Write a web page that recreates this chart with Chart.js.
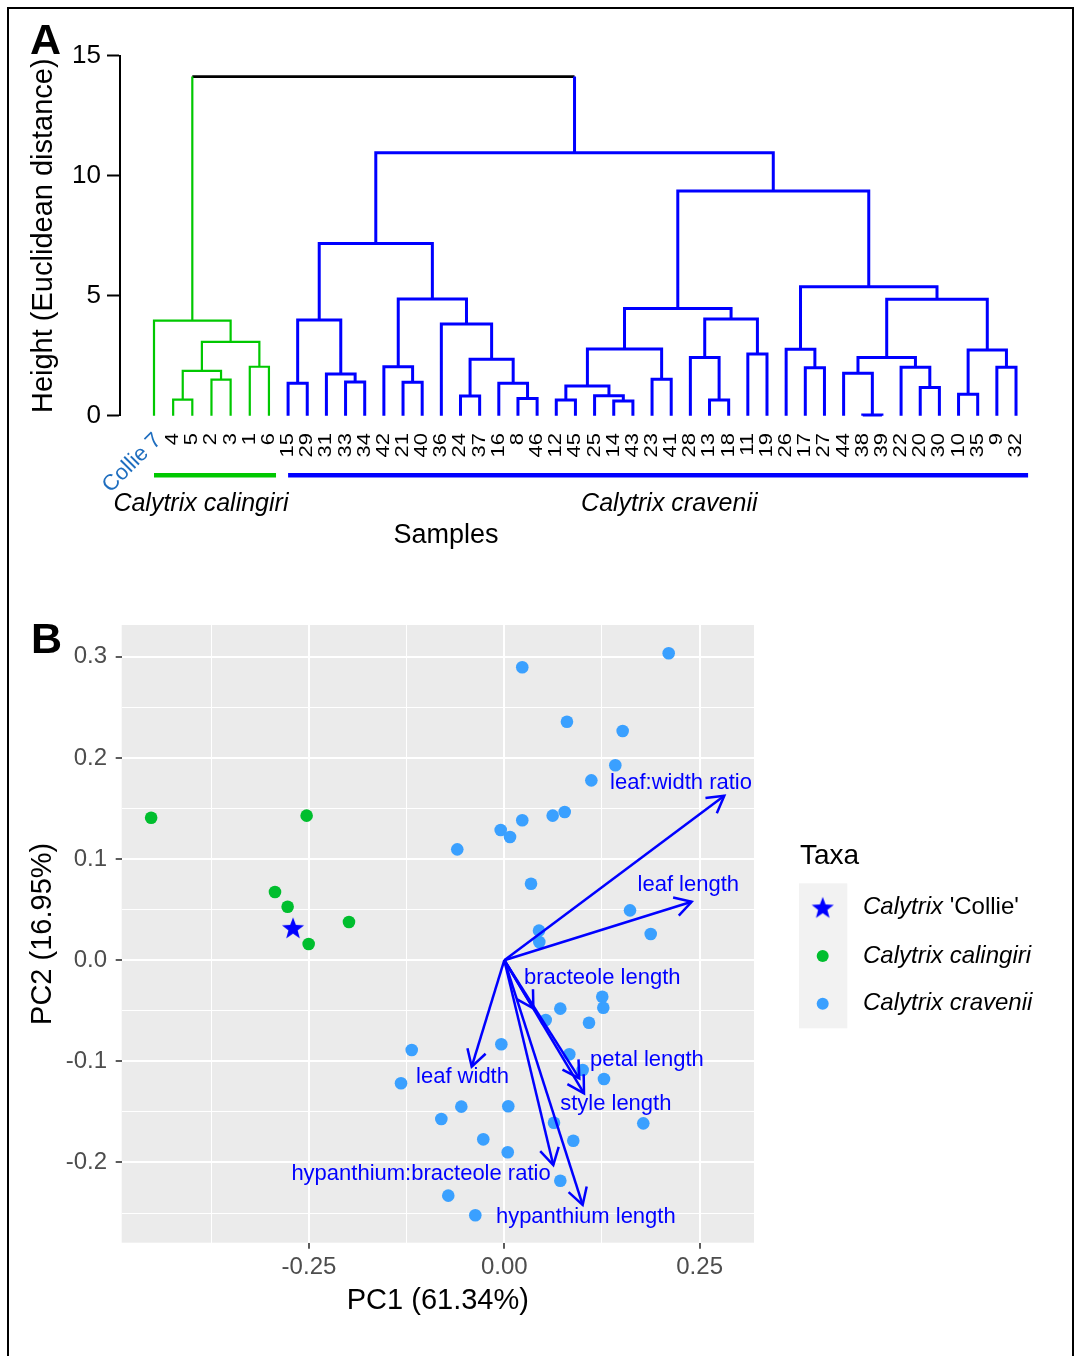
<!DOCTYPE html>
<html>
<head>
<meta charset="utf-8">
<script src="https://cdn.jsdelivr.net/npm/chart.js@4.4.1/dist/chart.umd.min.js"></script>
<style>
  body { margin: 0; background: #fff; width: 1075px; height: 1356px; overflow: hidden; position: relative;
         font-family: "Liberation Sans", Arial, Helvetica, sans-serif; }
  canvas { position: absolute; left: 0; top: 0; }
  #frame { position: absolute; left: 7px; top: 7px; width: 1063px; height: 1400px; border: 2px solid #000; }
  .tag { position: absolute; font-weight: bold; font-size: 43px; line-height: 1; }
</style>
</head>
<body>
<div id="frame"></div>
<canvas id="dendro" width="1075" height="1356"></canvas>
<canvas id="pca" width="1075" height="1356"></canvas>
<div class="tag" style="left:30px; top:18px;">A</div>
<div class="tag" style="left:31px; top:617px;">B</div>

<script>
// ---- Panel A: hierarchical clustering ----
const leafLabels = ['Collie 7', '4', '5', '2', '3', '1', '6', '15', '29', '31', '33', '34', '42', '21', '40',
  '36', '24', '37', '16', '8', '46', '12', '45', '25', '14', '43', '23', '41', '28', '13', '18', '11', '19',
  '26', '17', '27', '44', '38', '39', '22', '20', '30', '10', '35', '9', '32'];

// hclust-style merges: a leaf label or the index of an earlier merge, then the join height
const merges = [
  ['4', '5', 0.67], ['2', '3', 1.5], [0, 1, 1.87], ['1', '6', 2.04], [2, 3, 3.08], ['Collie 7', 4, 3.96],
  ['15', '29', 1.35], ['33', '34', 1.40], ['31', 7, 1.74], [6, 8, 3.99],
  ['21', '40', 1.39], ['42', 10, 2.04], ['24', '37', 0.82], ['8', '46', 0.72], ['16', 13, 1.35],
  [12, 14, 2.35], ['36', 15, 3.82], [11, 16, 4.86], [9, 17, 7.18],
  ['12', '45', 0.65], ['14', '43', 0.61], ['25', 20, 0.83], [19, 21, 1.24], ['23', '41', 1.52], [22, 23, 2.78],
  ['13', '18', 0.65], ['28', 25, 2.42], ['11', '19', 2.57], [26, 27, 4.03], [24, 28, 4.47],
  ['17', '27', 2.0], ['26', 30, 2.77], ['38', '39', 0.03], ['44', 32, 1.77], ['20', '30', 1.18],
  ['22', 34, 2.02], [33, 35, 2.43], ['10', '35', 0.89], ['9', '32', 2.02], [37, 38, 2.74], [36, 39, 4.85],
  [31, 40, 5.37], [29, 41, 9.36], [18, 42, 10.96], [5, 43, 14.13]
];

const clusterRoots = [5, 43];
const clusterColours = ['#00C800', '#0000FF'];
const rootColour = '#000000';

const taxonNames = ['Calytrix calingiri', 'Calytrix cravenii'];
const taxonBarFrom = [0, 7];
const taxonBarTo = [6.37, 45.63];
const taxonNameAt = [2.45, 26.9];

// ---- Panel B: PCA biplot ----
const collieX = [-0.2704];
const collieY = [0.031];
const calingiriX = [-0.452, -0.253, -0.2935, -0.2773, -0.1988, -0.2504];
const calingiriY = [0.1409, 0.1429, 0.0674, 0.0529, 0.0378, 0.0160];
const craveniiX = [0.2104, 0.0230, 0.0802, 0.1515, 0.1421, 0.1114, 0.0773, 0.0619, 0.0230, -0.0046,
  0.0073, -0.0602, 0.0342, 0.1609, 0.1874, 0.0444, 0.0448, -0.1185, -0.1322, -0.0806,
  -0.0717, 0.1254, 0.1267, 0.0717, 0.0530, 0.1084, -0.0038, 0.0832, 0.1003, 0.1276,
  -0.0550, 0.0051, 0.0636, 0.1779, -0.0269, 0.0883, 0.0044, 0.0717, -0.0371];
const craveniiY = [0.3034, 0.2896, 0.2358, 0.2266, 0.1927, 0.1778, 0.1465, 0.1429, 0.1383, 0.1287,
  0.1218, 0.1096, 0.0756, 0.0493, 0.0259, 0.0292, 0.0180, -0.0888, -0.1217, -0.1570,
  -0.2328, -0.0361, -0.0470, -0.0479, -0.0591, -0.0618, -0.0831, -0.0930, -0.1086, -0.1174,
  -0.1448, -0.1444, -0.1607, -0.1613, -0.1771, -0.1785, -0.1899, -0.2180, -0.2522];

const loadingNames = ['leaf:width ratio', 'leaf length', 'bracteole length', 'petal length', 'style length',
  'leaf width', 'hypanthium:bracteole ratio', 'hypanthium length'];
const loadingX = [0.2816, 0.2398, 0.0372, 0.0960, 0.1020, -0.0417, 0.0627, 0.1003];
const loadingY = [0.1626, 0.0578, -0.0476, -0.1168, -0.1316, -0.1053, -0.2025, -0.2420];
const loadingLabelX = [0.2262, 0.2355, 0.1253, 0.1826, 0.1427, -0.0535, -0.1066, 0.1043];
const loadingLabelY = [0.1749, 0.0743, -0.0173, -0.0987, -0.1422, -0.1156, -0.2116, -0.2536];

const xMajor = [-0.25, 0, 0.25];
const xMajorText = ['-0.25', '0.00', '0.25'];
const xMinor = [-0.375, -0.125, 0.125];
const yMajor = [-0.2, -0.1, 0, 0.1, 0.2, 0.3];
const yMajorText = ['-0.2', '-0.1', '0.0', '0.1', '0.2', '0.3'];
const yMinor = [-0.25, -0.15, -0.05, 0.05, 0.15, 0.25];

const legendNames = [['Calytrix', " 'Collie'"], ['Calytrix calingiri', ''], ['Calytrix cravenii', '']];

const FONT = '"Liberation Sans", Arial, Helvetica, sans-serif';
Chart.defaults.font.family = FONT;
Chart.defaults.animation = false;

// ---------- build dendrogram segments ----------
const leafIndex = {};
leafLabels.forEach((lab, i) => { leafIndex[lab] = i; });
const nodeX = [];
const nodeColour = [];
const leafColour = {};

function place(ref) {
  return typeof ref === 'string' ? { x: leafIndex[ref], h: 0 } : { x: nodeX[ref], h: merges[ref][2] };
}
merges.forEach((m, i) => { nodeX[i] = (place(m[0]).x + place(m[1]).x) / 2; });

function paint(ref, colour) {
  if (typeof ref === 'string') { leafColour[ref] = colour; return; }
  nodeColour[ref] = colour;
  paint(merges[ref][0], colour);
  paint(merges[ref][1], colour);
}
nodeColour[merges.length - 1] = rootColour;
clusterRoots.forEach((r, k) => paint(r, clusterColours[k]));
const colourOf = ref => typeof ref === 'string' ? leafColour[ref] : nodeColour[ref];

const segs = {};
function addPath(colour, pts) {
  if (!segs[colour]) segs[colour] = [];
  segs[colour].push(...pts, { x: pts[0].x, y: null });
}
merges.forEach((m, i) => {
  const a = place(m[0]), b = place(m[1]), h = m[2];
  const ca = colourOf(m[0]), cb = colourOf(m[1]), c = nodeColour[i];
  if (ca === c && cb === c) {
    addPath(c, [{ x: a.x, y: a.h }, { x: a.x, y: h }, { x: b.x, y: h }, { x: b.x, y: b.h }]);
  } else {
    addPath(ca, [{ x: a.x, y: a.h }, { x: a.x, y: h }]);
    addPath(cb, [{ x: b.x, y: b.h }, { x: b.x, y: h }]);
    addPath(c, [{ x: a.x, y: h }, { x: b.x, y: h }]);
  }
});
const lineWidths = { '#00C800': 2.2, '#0000FF': 3, '#000000': 2.8 };

// leaf labels, coloured bars and names under the tree
const dendroText = {
  id: 'dendroText',
  afterDraw(chart) {
    const { ctx } = chart;
    const x = chart.scales.x;
    ctx.save();
    ctx.fillStyle = '#000';
    ctx.font = '22px ' + FONT;
    ctx.textAlign = 'right';
    ctx.textBaseline = 'middle';
    leafLabels.forEach((lab, i) => {
      if (i === 0) return;
      ctx.save();
      ctx.translate(x.getPixelForValue(i), 433);
      ctx.rotate(-Math.PI / 2);
      ctx.scale(1, 0.82);
      ctx.fillText(lab, 0, 0);
      ctx.restore();
    });
    // the odd one out is tilted and blue
    ctx.save();
    ctx.fillStyle = '#1F6EBF';
    ctx.font = '22px ' + FONT;
    ctx.translate(x.getPixelForValue(0) + 4, 437);
    ctx.rotate(-Math.PI / 4);
    ctx.fillText(leafLabels[0], 0, 0);
    ctx.restore();

    taxonNames.forEach((name, k) => {
      const x0 = x.getPixelForValue(taxonBarFrom[k]);
      const x1 = x.getPixelForValue(taxonBarTo[k]);
      ctx.fillStyle = clusterColours[k];
      ctx.fillRect(x0, 473, x1 - x0, 4.5);
      ctx.fillStyle = '#000';
      ctx.font = 'italic 25px ' + FONT;
      ctx.textAlign = 'center';
      ctx.fillText(name, x.getPixelForValue(taxonNameAt[k]), 504);
    });
    ctx.font = '27px ' + FONT;
    ctx.fillText('Samples', 446, 536);
    ctx.restore();
  }
};

new Chart(document.getElementById('dendro'), {
  type: 'scatter',
  data: {
    datasets: Object.keys(segs).map(col => ({
      data: segs[col],
      showLine: true,
      spanGaps: false,
      borderColor: col,
      borderWidth: lineWidths[col],
      borderJoinStyle: 'miter',
      pointRadius: 0,
      clip: false
    }))
  },
  options: {
    responsive: false,
    events: [],
    layout: { padding: { top: 55.7, right: 45, bottom: 940.3, left: 0 } },
    plugins: { legend: { display: false }, tooltip: { enabled: false } },
    scales: {
      x: { type: 'linear', min: -1.775, max: 45.73, display: false },
      y: {
        type: 'linear', min: 0, max: 15,
        afterFit: s => { s.width = 120; },
        ticks: { stepSize: 5, font: { size: 26 }, color: '#000', padding: 6 },
        grid: { drawOnChartArea: false, tickLength: 13, tickColor: '#000', tickWidth: 2 },
        border: { display: true, color: '#000', width: 2 },
        title: { display: true, text: 'Height (Euclidean distance)', font: { size: 29 }, color: '#000',
                 padding: { top: 27, bottom: 0 } }
      }
    }
  },
  plugins: [dendroText]
});

// ---------- Panel B ----------
function starImage(r) {
  const c = document.createElement('canvas');
  c.width = c.height = Math.ceil(r * 2 + 4);
  const g = c.getContext('2d');
  g.translate(c.width / 2, c.height / 2);
  g.beginPath();
  for (let k = 0; k < 10; k++) {
    const rad = k % 2 === 0 ? r : r * 0.42;
    const a = -Math.PI / 2 + k * Math.PI / 5;
    g.lineTo(rad * Math.cos(a), rad * Math.sin(a));
  }
  g.closePath();
  g.fillStyle = '#0000FF';
  g.fill();
  return c;
}
const star = starImage(11.6);
const zip = (xs, ys) => xs.map((v, i) => ({ x: v, y: ys[i] }));
const isIn = (arr, v) => arr.some(a => Math.abs(a - v) < 1e-9);

const pcaColours = { collie: '#0000FF', calingiri: '#00BE2E', cravenii: '#3AA0FF' };

const panelBg = {
  id: 'panelBg',
  beforeDraw(chart) {
    const { ctx, chartArea: a } = chart;
    ctx.save();
    ctx.fillStyle = '#EBEBEB';
    ctx.fillRect(a.left, a.top, a.right - a.left, a.bottom - a.top);
    ctx.restore();
  }
};

const biplotExtras = {
  id: 'biplotExtras',
  afterDatasetsDraw(chart) {
    const { ctx } = chart;
    const x = chart.scales.x, y = chart.scales.y;
    const ox = x.getPixelForValue(0), oy = y.getPixelForValue(0);
    ctx.save();
    ctx.strokeStyle = '#0000FF';
    ctx.lineWidth = 2.5;
    ctx.lineJoin = 'miter';
    loadingX.forEach((lx, i) => {
      const tx = x.getPixelForValue(lx), ty = y.getPixelForValue(loadingY[i]);
      const ang = Math.atan2(ty - oy, tx - ox);
      const L = 19;
      const a1 = ang + Math.PI - Math.PI / 6, a2 = ang + Math.PI + Math.PI / 6;
      ctx.beginPath();
      ctx.moveTo(tx + L * Math.cos(a1), ty + L * Math.sin(a1));
      ctx.lineTo(tx, ty);
      ctx.lineTo(tx + L * Math.cos(a2), ty + L * Math.sin(a2));
      ctx.stroke();
    });
    ctx.fillStyle = '#0000FF';
    ctx.font = '22px ' + FONT;
    ctx.textAlign = 'center';
    ctx.textBaseline = 'middle';
    loadingNames.forEach((name, i) => {
      ctx.fillText(name, x.getPixelForValue(loadingLabelX[i]), y.getPixelForValue(loadingLabelY[i]));
    });
    ctx.restore();
  },
  afterDraw(chart) {
    const { ctx } = chart;
    ctx.save();
    ctx.fillStyle = '#000';
    ctx.font = '28px ' + FONT;
    ctx.textBaseline = 'middle';
    ctx.fillText('Taxa', 800, 856);
    ctx.fillStyle = '#F2F2F2';
    ctx.fillRect(799, 883.3, 48.3, 145);
    const keyY = [907.3, 956, 1003.7];
    ctx.drawImage(star, 822.7 - star.width / 2, keyY[0] + 1.1 - star.height / 2);
    [pcaColours.calingiri, pcaColours.cravenii].forEach((col, k) => {
      ctx.beginPath();
      ctx.arc(822.7, keyY[k + 1], 6, 0, Math.PI * 2);
      ctx.fillStyle = col;
      ctx.fill();
    });
    ctx.fillStyle = '#000';
    legendNames.forEach((parts, k) => {
      ctx.font = 'italic 24px ' + FONT;
      ctx.fillText(parts[0], 863, keyY[k]);
      const w = ctx.measureText(parts[0]).width;
      ctx.font = '24px ' + FONT;
      ctx.fillText(parts[1], 863 + w, keyY[k]);
    });
    ctx.restore();
  }
};

new Chart(document.getElementById('pca'), {
  type: 'scatter',
  data: {
    datasets: [
      ...loadingX.map((lx, i) => ({
        data: [{ x: 0, y: 0 }, { x: lx, y: loadingY[i] }],
        showLine: true, borderColor: '#0000FF', borderWidth: 2.5, pointRadius: 0, order: 0
      })),
      { data: zip(collieX, collieY), pointStyle: star, order: 1 },
      { data: zip(calingiriX, calingiriY), backgroundColor: pcaColours.calingiri, borderWidth: 0,
        pointRadius: 6.3, order: 1 },
      { data: zip(craveniiX, craveniiY), backgroundColor: pcaColours.cravenii, borderWidth: 0,
        pointRadius: 6.3, order: 1 }
    ]
  },
  options: {
    responsive: false,
    events: [],
    layout: { padding: { top: 625, right: 321, bottom: 0, left: 0 } },
    plugins: { legend: { display: false }, tooltip: { enabled: false } },
    scales: {
      x: {
        type: 'linear', min: -0.4897, max: 0.3196,
        afterBuildTicks: s => { s.ticks = xMinor.concat(xMajor).sort((a, b) => a - b).map(v => ({ value: v })); },
        afterFit: s => { s.height = 1356 - 1242.7; },
        ticks: {
          autoSkip: false, maxRotation: 0, font: { size: 24 }, color: '#4D4D4D', padding: 4,
          callback: v => { const k = xMajor.findIndex(m => Math.abs(m - v) < 1e-9); return k < 0 ? '' : xMajorText[k]; }
        },
        grid: {
          color: '#FFFFFF',
          lineWidth: c => isIn(xMajor, c.tick.value) ? 2 : 1,
          tickColor: c => isIn(xMajor, c.tick.value) ? '#333333' : 'rgba(0,0,0,0)',
          tickLength: 6, tickWidth: 1.6
        },
        border: { display: false },
        title: { display: true, text: 'PC1 (61.34%)', font: { size: 29 }, color: '#000',
                 padding: { top: 0, bottom: 38 } }
      },
      y: {
        type: 'linear', min: -0.2793, max: 0.3314,
        afterBuildTicks: s => { s.ticks = yMinor.concat(yMajor).sort((a, b) => a - b).map(v => ({ value: v })); },
        afterFit: s => { s.width = 121.7; },
        ticks: {
          autoSkip: false, font: { size: 24 }, color: '#4D4D4D', padding: 8.7,
          callback: v => { const k = yMajor.findIndex(m => Math.abs(m - v) < 1e-9); return k < 0 ? '' : yMajorText[k]; }
        },
        grid: {
          color: '#FFFFFF',
          lineWidth: c => isIn(yMajor, c.tick.value) ? 2 : 1,
          tickColor: c => isIn(yMajor, c.tick.value) ? '#333333' : 'rgba(0,0,0,0)',
          tickLength: 6, tickWidth: 1.6
        },
        border: { display: false },
        title: { display: true, text: 'PC2 (16.95%)', font: { size: 29 }, color: '#000',
                 padding: { top: 25.6, bottom: 0 } }
      }
    }
  },
  plugins: [panelBg, biplotExtras]
});
</script>
</body>
</html>
